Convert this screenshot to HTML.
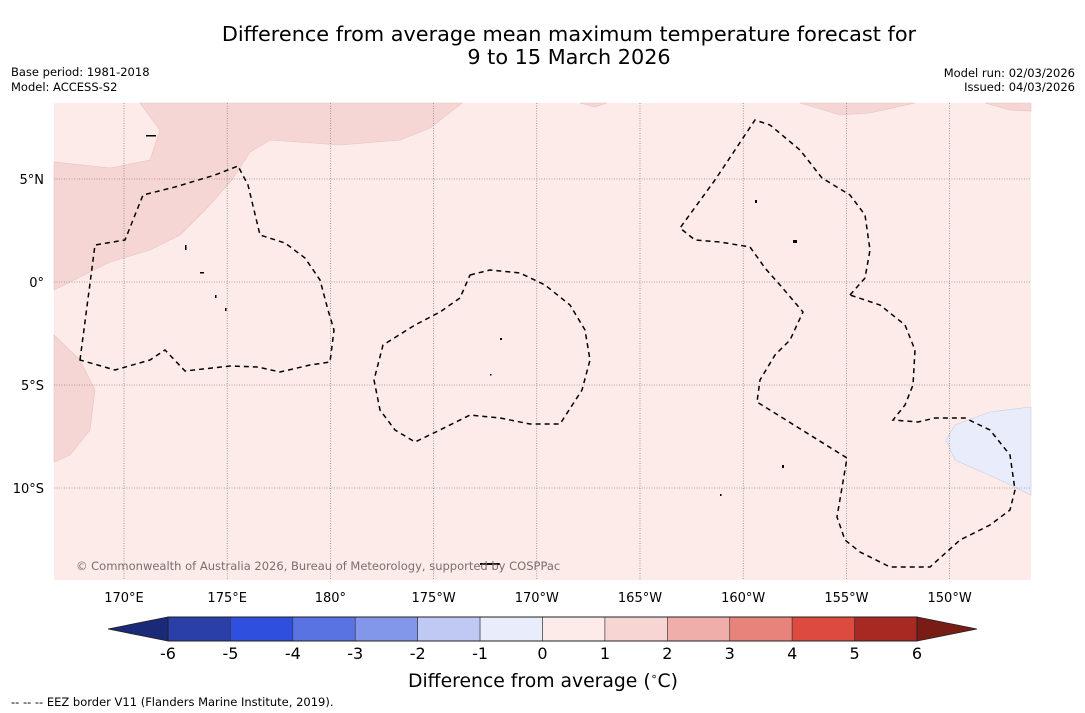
<!DOCTYPE html>
<html><head><meta charset="utf-8"><style>
body{margin:0;background:#fff;font-family:"Liberation Sans","DejaVu Sans",sans-serif}
svg{display:block}
</style></head><body>
<svg id="s" width="1085" height="713" font-family="DejaVu Sans, Liberation Sans, sans-serif">
<text x="569" y="41" font-size="20.8" text-anchor="middle">Difference from average mean maximum temperature forecast for</text>
<text x="569" y="64" font-size="20.8" text-anchor="middle">9 to 15 March 2026</text>
<text x="11" y="76" font-size="11.5">Base period: 1981-2018</text>
<text x="11" y="91" font-size="11.5">Model: ACCESS-S2</text>
<text x="1075" y="77" font-size="11.5" text-anchor="end">Model run: 02/03/2026</text>
<text x="1075" y="91" font-size="11.5" text-anchor="end">Issued: 04/03/2026</text>
<g>
<rect x="54" y="103" width="977" height="477" fill="#fcebe9"/>
<path d="M140,103 L462,103 L430,128 L400,140 L340,145 L270,140 L250,152 L232,180 L205,210 L180,235 L150,250 L110,262 L54,290 L54,162 L110,168 L150,160 L160,130 Z" fill="#f6d6d4" stroke="#e5c3c0" stroke-width="0.6"/>
<path d="M54,335 L80,360 L95,390 L90,430 L70,455 L54,462 Z" fill="#f6d6d4" stroke="#e5c3c0" stroke-width="0.6"/>
<path d="M800,103 L840,115 L870,113 L915,103 Z M985,103 L1010,110 L1031,111 L1031,103 Z M580,103 L595,107 L607,103 Z" fill="#f6d6d4" stroke="#e5c3c0" stroke-width="0.6"/>
<path d="M1031,407 L990,412 L955,425 L946,440 L955,460 L1000,480 L1031,495 Z" fill="#e9ecfa" stroke="#ccd" stroke-width="0.6"/>
<g id="grid" stroke="#666" stroke-width="0.6" stroke-dasharray="1,1.5"></g>
<g fill="none" stroke="#000" stroke-width="1.5" stroke-dasharray="5,4">
<path d="M80,360 L95,245 L125,240 L143,195 L175,187 L215,175 L238,166 L248,185 L260,235 L285,243 L305,258 L320,280 L328,310 L334,330 L330,362 L310,365 L280,372 L258,367 L230,366 L185,371 L165,350 L150,360 L115,370 Z"/>
<path d="M470,275 L490,270 L520,273 L545,285 L570,305 L585,330 L590,360 L582,390 L560,424 L530,424 L500,418 L470,415 L440,430 L415,442 L395,430 L380,410 L374,380 L383,345 L415,325 L440,312 L460,298 Z"/>
<path d="M850,295 L865,278 L870,250 L865,215 L850,195 L822,178 L800,150 L770,125 L755,120 L715,180 L680,228 L695,240 L720,242 L750,247 L765,268 L780,285 L803,312 L790,340 L775,355 L760,380 L757,402 L847,458 L837,517 L845,540 L860,552 L890,567 L930,567 L960,540 L990,525 L1010,510 L1015,490 L1010,455 L990,430 L965,418 L935,418 L918,422 L893,420 L905,405 L913,385 L915,350 L905,325 L880,305 Z"/>
</g>
<g fill="#000">
<rect x="185" y="245" width="1.5" height="5"/><rect x="200" y="272" width="4" height="1.5"/><rect x="215" y="295" width="1.5" height="3"/><rect x="225" y="308" width="1.5" height="3"/><rect x="500" y="338" width="2" height="2"/><rect x="755" y="200" width="2" height="3"/><rect x="793" y="240" width="4" height="3"/><rect x="782" y="465" width="2" height="3"/><rect x="490" y="374" width="1.5" height="1.5"/><rect x="720" y="494" width="1.5" height="2"/><rect x="480" y="563" width="20" height="2"/><rect x="146" y="135" width="10" height="1.5"/>
</g>
<text x="76" y="570" font-size="11.5" fill="#7a6e6e">© Commonwealth of Australia 2026, Bureau of Meteorology, supported by COSPPac</text>
</g>
<g id="axes" font-size="13"></g>
<g id="cbar"></g>
<text x="543" y="687" font-size="18.8" text-anchor="middle">Difference from average (<tspan font-size="11" dy="-7">∘</tspan><tspan dy="7">C)</tspan></text>
<text x="11" y="706" font-size="11.5">--  --  -- EEZ border V11 (Flanders Marine Institute, 2019).</text>
</svg>
<script>
const ns='http://www.w3.org/2000/svg';
const lonTicks=[170,175,180,185,190,195,200,205,210];
const lonLabels=['170°E','175°E','180°','175°W','170°W','165°W','160°W','155°W','150°W'];
const latTicks=[5,0,-5,-10];
const latLabels=['5°N','0°','5°S','10°S'];
const binEdges=[-6,-5,-4,-3,-2,-1,0,1,2,3,4,5,6];
const binColors=['#2a3fa8','#2f4fde','#5a73e2','#8397ea','#c0c9f4','#e9ecfa','#fcebe9','#f7d5d3','#efaea9','#e8837c','#dc4a40','#a82922'];
const underColor='#1b2a78', overColor='#7a1c16';
const X=lon=>124+(lon-170)*20.64, Y=lat=>282-lat*20.6;
const C=v=>168+(v+6)*(749/12);
function mk(t,a,p){const e=document.createElementNS(ns,t);for(const k in a)e.setAttribute(k,a[k]);p.appendChild(e);return e;}
const grid=document.getElementById('grid'),axes=document.getElementById('axes'),cb=document.getElementById('cbar');
lonTicks.forEach((l,i)=>{
 const g=mk('line',{x1:X(l),x2:X(l),y1:103,y2:580},grid);
 
 
 const t=mk('text',{x:X(l),y:602,'text-anchor':'middle'},axes);t.textContent=lonLabels[i];
 
 
});
latTicks.forEach((l,i)=>{
 const g=mk('line',{x1:54,x2:1031,y1:Y(l),y2:Y(l)},grid);
 
 
 const t=mk('text',{x:44,y:Y(l)+5,'text-anchor':'end'},axes);t.textContent=latLabels[i];
 
 
});
const y0=617,y1=641;
binColors.forEach((c,i)=>{
 const r=mk('rect',{x:C(binEdges[i]),y:y0,width:C(binEdges[i+1])-C(binEdges[i]),height:y1-y0,fill:c,stroke:'#333','stroke-width':0.6},cb);
 
 
});
const lt=mk('polygon',{points:`${C(-6)},${y0} ${C(-6)},${y1} 108,${(y0+y1)/2}`,fill:underColor,stroke:'#222','stroke-width':0.8},cb);


const rt=mk('polygon',{points:`${C(6)},${y0} ${C(6)},${y1} 977,${(y0+y1)/2}`,fill:overColor,stroke:'#222','stroke-width':0.8},cb);


mk('rect',{x:C(-6),y:y0,width:C(6)-C(-6),height:y1-y0,fill:'none',stroke:'#222','stroke-width':1},cb);
binEdges.forEach(v=>{
 const t=mk('text',{x:C(v),y:659,'text-anchor':'middle','font-size':16},cb);t.textContent=String(v);
 
 
});
</script>
</body></html>
